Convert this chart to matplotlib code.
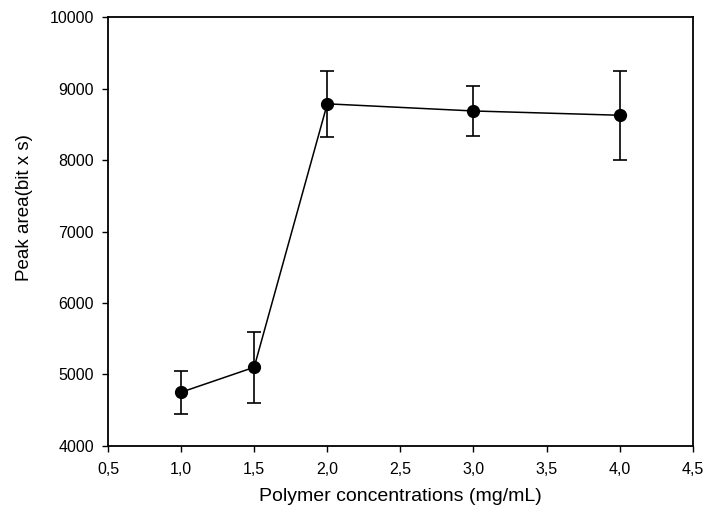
import numpy as np
from matplotlib import pyplot as plt

# Peak area vs polymer concentration
conc = [1.0, 1.5, 2.0, 3.0, 4.0]
peak_area = [4750, 5100, 8790, 8690, 8630]
peak_err = [300, 500, 460, 350, 620]
xticks = [0.5, 1.0, 1.5, 2.0, 2.5, 3.0, 3.5, 4.0, 4.5]
yticks = [4000, 5000, 6000, 7000, 8000, 9000, 10000]

plt.rcParams['font.family'] = ['Liberation Sans', 'DejaVu Sans']

fig = plt.figure(figsize=(7.08, 5.13), dpi=100)
ax = fig.add_axes([0.1525, 0.131, 0.826, 0.835])

ax.errorbar(conc, peak_area, yerr=peak_err,
            color='black', marker='o', markersize=8.5, linewidth=1.1,
            elinewidth=1.2, capsize=5, capthick=1.2)

ax.set_xlim(0.5, 4.5)
ax.set_ylim(4000, 10000)
ax.set_xticks(xticks)
ax.set_xticklabels([f'{t:.1f}'.replace('.', ',') for t in xticks])
ax.set_yticks(yticks)
ax.tick_params(direction='out', length=4, width=1, labelsize=11.5)
ax.tick_params(axis='x', pad=8)
ax.tick_params(axis='y', pad=6)

for s in ax.spines.values():
    s.set_linewidth(1.3)

ax.set_xlabel('Polymer concentrations (mg/mL)', fontsize=14)
ax.set_ylabel('Peak area(bit x s)', fontsize=13.5)
# label positions in axes coordinates
ax.xaxis.set_label_coords(0.5, -0.098)
ax.yaxis.set_label_coords(-0.128, 0.555)

fig.savefig('out.png', dpi=100)
